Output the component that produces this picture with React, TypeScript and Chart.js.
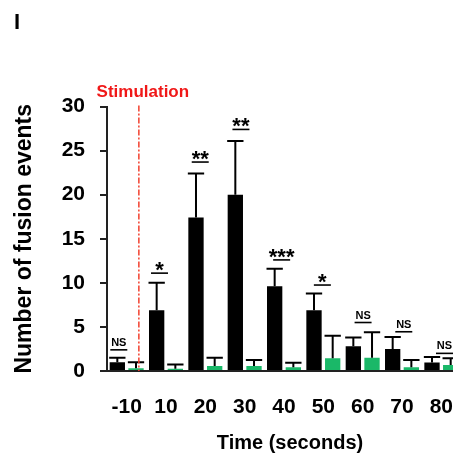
import React, { useEffect, useRef } from "react";
import { Chart, registerables } from "chart.js";

Chart.register(...registerables);

// ---- data ----
const categories = ["-10", "10", "20", "30", "40", "50", "60", "70", "80"];
const controlMeans = [1.0, 6.9, 17.4, 20.0, 9.6, 6.9, 2.8, 2.5, 0.95];
const controlErr = [0.5, 3.1, 5.0, 6.1, 2.0, 1.9, 1.0, 1.35, 0.65];
const treatedMeans = [0.3, 0.25, 0.57, 0.57, 0.42, 1.44, 1.5, 0.42, 0.68];
const treatedErr = [0.7, 0.5, 0.93, 0.68, 0.52, 2.56, 2.9, 0.83, 0.76];
const significance = ["NS", "*", "**", "**", "***", "*", "NS", "NS", "NS"];
const significanceLevel = [2.4, 11.1, 23.7, 27.4, 12.6, 9.75, 5.5, 4.45, 2.0];
const yMin = 0;
const yMax = 30;
const yStep = 5;
const stimulationLabel = "Stimulation";
const panelLabel = "I";
const xTitle = "Time (seconds)";
const yTitle = "Number of fusion events";

const FONT = "'Liberation Sans', Arial, Helvetica, sans-serif";
const BLACK = "#000000";
const GREEN = "#1ab868";
const AXIS = "#222222";
const RED_TEXT = "#f01818";
const RED_LINE = "#f2402e";

const overlay = {
  id: "overlay",
  afterDatasetsDraw(chart: any) {
    const ctx = chart.ctx as CanvasRenderingContext2D;
    const xs = chart.scales.x;
    const ys = chart.scales.y;
    const area = chart.chartArea;
    const cw = xs.getPixelForValue(1) - xs.getPixelForValue(0);
    const errs = [controlErr, treatedErr];
    ctx.save();

    // error bars (upper only)
    chart.data.datasets.forEach((ds: any, di: number) => {
      const meta = chart.getDatasetMeta(di);
      meta.data.forEach((bar: any, i: number) => {
        const { x, width } = bar.getProps(["x", "width"], true);
        const v = ds.data[i];
        const by = ys.getPixelForValue(v);
        const ty = ys.getPixelForValue(v + errs[di][i]);
        const half = width / 2 + 0.5;
        ctx.strokeStyle = BLACK;
        ctx.lineWidth = 2;
        ctx.beginPath();
        ctx.moveTo(x, by);
        ctx.lineTo(x, ty);
        ctx.moveTo(x - half, ty);
        ctx.lineTo(x + half, ty);
        ctx.stroke();
      });
    });

    // significance marks
    significance.forEach((label, i) => {
      const cx = xs.getPixelForValue(i) + (-0.2 + 0.035 * i) * cw;
      const ly = ys.getPixelForValue(significanceLevel[i]);
      ctx.strokeStyle = BLACK;
      ctx.lineWidth = 1.6;
      ctx.beginPath();
      ctx.moveTo(cx - 8.5, ly);
      ctx.lineTo(cx + 8.5, ly);
      ctx.stroke();
      ctx.fillStyle = BLACK;
      ctx.textAlign = "center";
      ctx.textBaseline = "alphabetic";
      if (label === "NS") {
        ctx.font = `bold 11px ${FONT}`;
        ctx.fillText(label, cx, ly - 4);
      } else {
        ctx.font = `bold 22px ${FONT}`;
        ctx.fillText(label, cx, ly + 4);
      }
    });

    // stimulation line
    const sx = xs.getPixelForValue(0) + 0.31 * cw;
    ctx.strokeStyle = RED_LINE;
    ctx.lineWidth = 1.5;
    ctx.setLineDash([6, 2, 2, 2]);
    ctx.beginPath();
    ctx.moveTo(sx, area.top - 1);
    ctx.lineTo(sx, area.bottom);
    ctx.stroke();
    ctx.setLineDash([]);

    ctx.fillStyle = RED_TEXT;
    ctx.font = `bold 17px ${FONT}`;
    ctx.textAlign = "center";
    ctx.textBaseline = "alphabetic";
    ctx.fillText(stimulationLabel, sx + 4, area.top - 10);

    // x axis title
    ctx.fillStyle = BLACK;
    ctx.font = `bold 20px ${FONT}`;
    ctx.textAlign = "center";
    ctx.textBaseline = "middle";
    ctx.fillText(xTitle, (area.left + area.right) / 2 + 6, chart.height - 11);

    // panel label
    ctx.font = `bold 22px ${FONT}`;
    ctx.textAlign = "left";
    ctx.textBaseline = "alphabetic";
    ctx.fillText(panelLabel, 14, 29);

    ctx.restore();
  },
};

export default function App() {
  const ref = useRef<HTMLCanvasElement>(null);

  useEffect(() => {
    if (!ref.current) return;
    const chart = new Chart(ref.current, {
      type: "bar",
      data: {
        labels: categories,
        datasets: [
          {
            label: "Control",
            data: controlMeans,
            backgroundColor: BLACK,
            borderWidth: 0,
            categoryPercentage: 0.95,
            barPercentage: 0.82,
          },
          {
            label: "Treated",
            data: treatedMeans,
            backgroundColor: GREEN,
            borderWidth: 0,
            categoryPercentage: 0.95,
            barPercentage: 0.82,
          },
        ],
      },
      options: {
        responsive: false,
        animation: false,
        devicePixelRatio: 1,
        layout: { padding: { top: 106.5, right: 17.5, bottom: 0, left: 0 } },
        plugins: {
          legend: { display: false },
          tooltip: { enabled: false },
          title: { display: false },
        },
        scales: {
          x: {
            grid: { display: false, drawTicks: false },
            border: { display: true, color: AXIS, width: 2 },
            ticks: {
              color: BLACK,
              padding: 26,
              font: { family: FONT, size: 21, weight: "bold", lineHeight: 1 },
              maxRotation: 0,
              autoSkip: false,
            },
            afterFit: (scale: any) => {
              scale.height = 83;
            },
          },
          y: {
            min: yMin,
            max: yMax,
            grid: {
              drawOnChartArea: false,
              drawTicks: true,
              tickLength: 7,
              color: AXIS,
              lineWidth: 2,
            },
            border: { display: true, color: AXIS, width: 2 },
            ticks: {
              stepSize: yStep,
              color: BLACK,
              padding: 15,
              font: { family: FONT, size: 21, weight: "bold", lineHeight: 1 },
            },
            title: {
              display: true,
              text: yTitle,
              color: BLACK,
              font: { family: FONT, size: 23, weight: "bold", lineHeight: 1 },
              padding: { top: 13.5, bottom: 0 },
            },
            afterFit: (scale: any) => {
              scale.width = 107;
            },
          },
        },
      },
      plugins: [overlay],
    } as any);
    return () => chart.destroy();
  }, []);

  return (
    <div
      style={{
        position: "fixed",
        left: 0,
        top: 0,
        width: 453,
        height: 454,
        overflow: "hidden",
        background: "#ffffff",
      }}
    >
      <canvas
        ref={ref}
        width={480}
        height={454}
        style={{ display: "block", width: 480, height: 454 }}
      />
    </div>
  );
}
